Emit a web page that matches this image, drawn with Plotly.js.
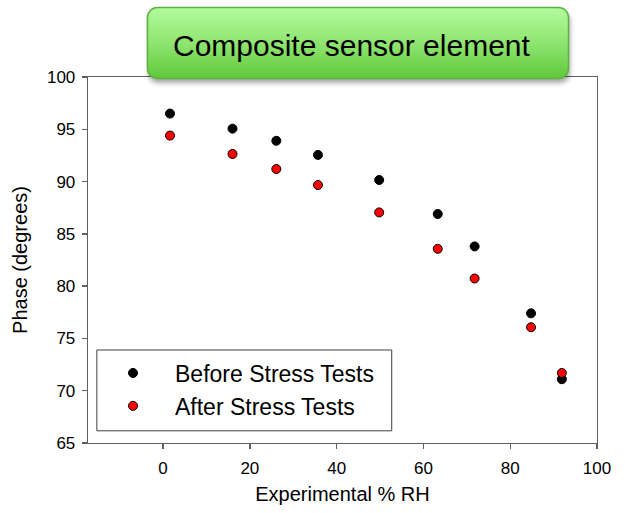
<!DOCTYPE html>
<html>
<head>
<meta charset="utf-8">
<script src="https://cdn.plot.ly/plotly-3.0.1.min.js"></script>
<style>html,body{margin:0;padding:0;background:#fff;}#chart{width:625px;height:513px;}</style>
</head>
<body>
<div id="chart"></div>
<script>
// Data
const rhBefore = [1.6, 16.0, 26.1, 35.7, 49.8, 63.3, 71.8, 84.8, 91.9];
const phaseBefore = [96.5, 95.06, 93.9, 92.55, 90.15, 86.9, 83.8, 77.4, 71.1];
const rhAfter = [1.6, 16.0, 26.1, 35.7, 49.8, 63.3, 71.8, 84.8, 91.9];
const phaseAfter = [94.4, 92.64, 91.2, 89.67, 87.05, 83.57, 80.73, 76.07, 71.7];
const seriesNames = ["Before Stress Tests", "After Stress Tests"];
const xTicks = [0, 20, 40, 60, 80, 100];
const yTicks = [65, 70, 75, 80, 85, 90, 95, 100];
const chartTitle = "Composite sensor element";
const xTitle = "Experimental % RH";
const yTitle = "Phase (degrees)";

const boxSvg = "<svg xmlns='http://www.w3.org/2000/svg' width='430' height='82' viewBox='0 0 430 82'>" +
  "<defs><linearGradient id='g' x1='0' y1='0' x2='0' y2='1'>" +
  "<stop offset='0' stop-color='#b3fb9e'/><stop offset='0.5' stop-color='#8fe570'/><stop offset='1' stop-color='#60c83c'/></linearGradient>" +
  "<filter id='s' x='-10%' y='-20%' width='120%' height='160%'><feGaussianBlur stdDeviation='2.5'/></filter></defs>" +
  "<rect x='2' y='5' width='422' height='72' rx='10' fill='#000' opacity='0.35' filter='url(#s)'/>" +
  "<rect x='1.5' y='1.5' width='421' height='71' rx='10' fill='url(#g)' stroke='#5cb33d' stroke-width='1.5'/>" +
  "</svg>";
const boxUri = "data:image/svg+xml;charset=utf-8," + encodeURIComponent(boxSvg);

const traces = [
  {
    x: rhBefore, y: phaseBefore, name: seriesNames[0], type: "scatter", mode: "markers",
    marker: {color: "#000000", size: 9, line: {color: "#000000", width: 1}}
  },
  {
    x: rhAfter, y: phaseAfter, name: seriesNames[1], type: "scatter", mode: "markers",
    marker: {color: "#ff0000", size: 9, line: {color: "#000000", width: 1}}
  }
];

const fam = "Liberation Sans, Arial, sans-serif";
const axisFont = {family: fam, size: 17, color: "#000"};

const layout = {
  width: 625, height: 513,
  margin: {l: 88, r: 28, t: 77, b: 70},
  paper_bgcolor: "#fff", plot_bgcolor: "#fff",
  showlegend: true,
  legend: {
    x: 0.0059, y: 0.2500, xanchor: "left", yanchor: "top",
    bgcolor: "rgba(0,0,0,0)", borderwidth: 0, itemwidth: 74,
    font: {family: fam, size: 23, color: "#000"}
  },
  xaxis: {
    range: [-17.3, 100], tickvals: xTicks, ticktext: xTicks.map(String),
    showgrid: false, zeroline: false, showline: true, linecolor: "#606060", linewidth: 1.3,
    mirror: true, ticks: "outside", ticklen: 5, tickcolor: "#606060", tickwidth: 1.3,
    tickfont: axisFont, ticklabelstandoff: 4,
    title: {text: xTitle, font: {family: fam, size: 20, color: "#000"}, standoff: 10}
  },
  yaxis: {
    range: [65, 100], tickvals: yTicks, ticktext: yTicks.map(String),
    showgrid: false, zeroline: false, showline: true, linecolor: "#606060", linewidth: 1.3,
    mirror: true, ticks: "outside", ticklen: 5, tickcolor: "#606060", tickwidth: 1.3,
    tickfont: axisFont, ticklabelstandoff: 3,
    title: {text: yTitle, font: {family: fam, size: 20, color: "#000"}, standoff: 14}
  },
  shapes: [
    {type: "rect", xref: "paper", yref: "paper", x0: 0.0174, x1: 0.5967, y0: 0.0333, y1: 0.2541,
     line: {color: "#404040", width: 1}, fillcolor: "rgba(0,0,0,0)", layer: "above"}
  ],
  images: [
    {source: boxUri, xref: "paper", yref: "paper", x: 0.11395, y: 1.19399, sizex: 0.8448, sizey: 0.22404,
     xanchor: "left", yanchor: "top", sizing: "stretch", layer: "above"}
  ],
  annotations: [
    {text: chartTitle, xref: "paper", yref: "paper", x: 0.1635, y: 1.0874, xanchor: "left", yanchor: "middle",
     showarrow: false, font: {family: fam, size: 30, color: "#000"}}
  ]
};

Plotly.newPlot("chart", traces, layout, {displayModeBar: false, staticPlot: true});
</script>
</body>
</html>
